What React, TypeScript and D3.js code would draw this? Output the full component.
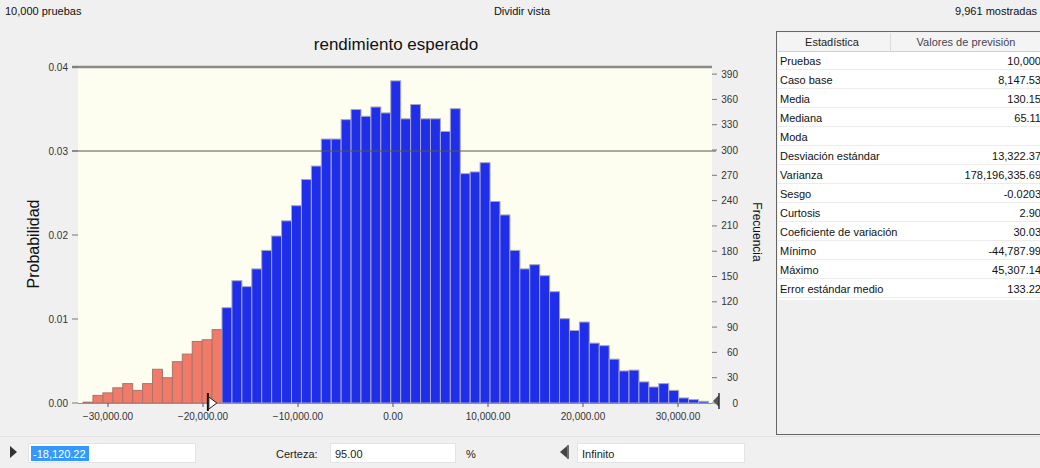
import React from "react";
import * as d3 from "d3";

// ---------- data ----------
const trialsText = "10,000 pruebas";
const splitText = "Dividir vista";
const shownText = "9,961 mostradas";
const chartTitle = "rendimiento esperado";
const shownTrials = 9961;

const binStart = -32630;
const binWidth = 1045;
const binCounts = [
  1, 9, 12, 18, 23, 15, 23, 40, 30, 49, 58, 73, 75, 87,
  113, 145, 138, 159, 181, 198, 216, 234, 265, 281,
  313, 313, 336, 348, 340, 351, 344, 382, 337, 354,
  337, 337, 322, 349, 272, 274, 285, 239, 223, 181,
  159, 164, 151, 132, 100, 86, 96, 71, 68, 52,
  38, 39, 25, 19, 23, 15, 6, 4, 2,
];
const certaintyLow = -18120.22;
const xDomain = [-33160, 33580];
const xTicks = [-30000, -20000, -10000, 0, 10000, 20000, 30000];
const probTicks = [0, 0.01, 0.02, 0.03, 0.04];
const countTicks = [0, 30, 60, 90, 120, 150, 180, 210, 240, 270, 300, 330, 360, 390];

const statLabels = [
  "Pruebas", "Caso base", "Media", "Mediana", "Moda",
  "Desviación estándar", "Varianza", "Sesgo", "Curtosis",
  "Coeficiente de variación", "Mínimo", "Máximo", "Error estándar medio",
];
const statValues = [
  "10,000", "8,147.53", "130.15", "65.11", "",
  "13,322.37", "178,196,335.69", "-0.0203", "2.90",
  "30.03", "-44,787.99", "45,307.14", "133.22",
];

const lowInput = "-18,120.22";
const certaintyLabel = "Certeza:";
const certaintyValue = "95.00";
const highInput = "Infinito";

// ---------- chart ----------
const FONT = "'Liberation Sans', Arial, sans-serif";
const PL = 78, PR = 712, PT = 67, PB = 403;

export default function App() {
  const x = d3.scaleLinear().domain(xDomain).range([PL, PR]);
  const yP = d3.scaleLinear().domain([0, 0.04]).range([PB, PT]);
  const yC = d3.scaleLinear().domain([0, 0.04 * shownTrials]).range([PB, PT]);
  const fx = d3.format(",.2f");
  const fp = d3.format(".2f");
  const xb = x(certaintyLow);

  const rowY0 = 61, rowH = 19;

  return (
    <div style={{ position: "absolute", left: 0, top: 0 }}>
      <svg width={1040} height={468} style={{ display: "block", fontFamily: FONT }}>
        <rect x={0} y={0} width={1040} height={468} fill="#f0f0f0" />
        {/* header strip */}
        <text x={5} y={15} fontSize={11} fill="#111">{trialsText}</text>
        <text x={522} y={15} fontSize={11} fill="#111" textAnchor="middle">{splitText}</text>
        <text x={1037} y={15} fontSize={11} fill="#111" textAnchor="end">{shownText}</text>

        {/* chart title */}
        <text x={396} y={50} fontSize={17} fill="#111" textAnchor="middle">{chartTitle}</text>

        {/* plot background */}
        <rect x={PL} y={PT} width={PR - PL} height={PB - PT} fill="#fefef0" />

        {/* bars */}
        {binCounts.map((c, i) => {
          const v0 = binStart + i * binWidth;
          const x0 = x(v0);
          const x1 = x(v0 + binWidth);
          const mid = v0 + binWidth / 2;
          const y = yC(c);
          return (
            <rect
              key={i}
              x={x0}
              y={y}
              width={x1 - x0}
              height={PB - y}
              fill={mid < certaintyLow ? "#f27a68" : "#1f2ee8"}
              stroke={mid < certaintyLow ? "#a8756a" : "#a5a5c8"}
              strokeWidth={1}
            />
          );
        })}

        {/* top line and 0.03 line */}
        <line x1={PL - 6} x2={PR} y1={yP(0.04)} y2={yP(0.04)} stroke="#8a8a8a" strokeWidth={2.5} />
        <line x1={PL - 6} x2={PR + 4} y1={yP(0.03)} y2={yP(0.03)} stroke="#555" strokeWidth={1} />
        {/* baseline */}
        <line x1={PL} x2={PR} y1={PB + 0.5} y2={PB + 0.5} stroke="#8c8cc0" strokeWidth={1} />

        {/* left axis */}
        {probTicks.map((t) => (
          <g key={t}>
            <line x1={PL - 6} x2={PL} y1={yP(t)} y2={yP(t)} stroke="#777" />
            <text x={PL - 10} y={yP(t) + 3.5} fontSize={10} fill="#333" textAnchor="end">{fp(t)}</text>
          </g>
        ))}
        <text
          transform={`translate(39,${244}) rotate(-90)`}
          fontSize={16}
          fill="#111"
          textAnchor="middle"
        >
          Probabilidad
        </text>

        {/* right axis */}
        {countTicks.map((t) => (
          <g key={t}>
            <line x1={PR} x2={PR + 5} y1={yC(t)} y2={yC(t)} stroke="#777" />
            <text x={738} y={yC(t) + 3.5} fontSize={10} fill="#333" textAnchor="end">{t}</text>
          </g>
        ))}
        <text
          transform={`translate(753,${232}) rotate(90)`}
          fontSize={12}
          fill="#111"
          textAnchor="middle"
        >
          Frecuencia
        </text>

        {/* x axis */}
        {xTicks.map((t) => (
          <g key={t}>
            <line x1={x(t)} x2={x(t)} y1={PB} y2={PB + 4} stroke="#555" />
            <text x={x(t)} y={PB + 17} fontSize={10} fill="#333" textAnchor="middle">{fx(t)}</text>
          </g>
        ))}

        {/* certainty grabbers */}
        <line x1={xb - 13} x2={xb - 13} y1={PB - 10} y2={PB + 8} stroke="#111" strokeWidth={2} />
        <path d={`M${xb - 12},${PB - 6} L${xb - 4},${PB} L${xb - 12},${PB + 6} Z`} fill="#fff" stroke="#222" />
        <path d={`M${PR + 1},${PB - 2} L${PR + 7},${PB - 8} L${PR + 7},${PB + 4} Z`} fill="#555" />
        <line x1={PR + 7} x2={PR + 7} y1={PB - 10} y2={PB + 6} stroke="#333" strokeWidth={1.5} />

        {/* statistics table */}
        <rect x={776.5} y={31.5} width={270} height={403} fill="#f0f0f0" stroke="#666" />
        <rect x={778} y={52} width={268} height={rowY0 + statLabels.length * rowH - 52 - 8} fill="#fff" />
        <rect x={778} y={33} width={268} height={18} fill="#f4f4f4" />
        <line x1={778} x2={1040} y1={51.5} y2={51.5} stroke="#cfcfcf" />
        <line x1={890.5} x2={890.5} y1={33} y2={51} stroke="#dcdcdc" />
        <text x={832} y={46} fontSize={11} fill="#222" textAnchor="middle">Estadística</text>
        <text x={966} y={46} fontSize={11} fill="#445" textAnchor="middle">Valores de previsión</text>
        {statLabels.map((l, i) => {
          const y = rowY0 + i * rowH;
          return (
            <g key={l}>
              <line x1={778} x2={1040} y1={y + 8.5} y2={y + 8.5} stroke="#ececec" />
              <text x={780} y={y + 4} fontSize={11} fill="#111">{l}</text>
              <text x={1041} y={y + 4} fontSize={11} fill="#111" textAnchor="end">{statValues[i]}</text>
            </g>
          );
        })}

        {/* bottom controls */}
        <line x1={0} x2={1040} y1={436.5} y2={436.5} stroke="#e2e2e2" />
        <path d="M10,446 L17,452 L10,458 Z" fill="#333" />
        <rect x={28.5} y={443.5} width={167} height={19} fill="#fff" stroke="#e4e4e4" />
        <rect x={31} y={446} width={58} height={15} fill="#3399ff" />
        <text x={33} y={457.5} fontSize={11} fill="#fff">{lowInput}</text>
        <text x={276} y={457.5} fontSize={11} fill="#222">{certaintyLabel}</text>
        <rect x={330.5} y={443.5} width={125} height={19} fill="#fff" stroke="#e4e4e4" />
        <text x={335} y={457.5} fontSize={11} fill="#222">{certaintyValue}</text>
        <text x={466} y={457.5} fontSize={11} fill="#222">%</text>
        <path d="M560,452 L567,446 L567,458 Z" fill="#444" />
        <line x1={568} x2={568} y1={445} y2={459} stroke="#444" strokeWidth={1.5} />
        <rect x={577.5} y={443.5} width={167} height={19} fill="#fff" stroke="#e4e4e4" />
        <text x={582} y={457.5} fontSize={11} fill="#222">{highInput}</text>
      </svg>
    </div>
  );
}
